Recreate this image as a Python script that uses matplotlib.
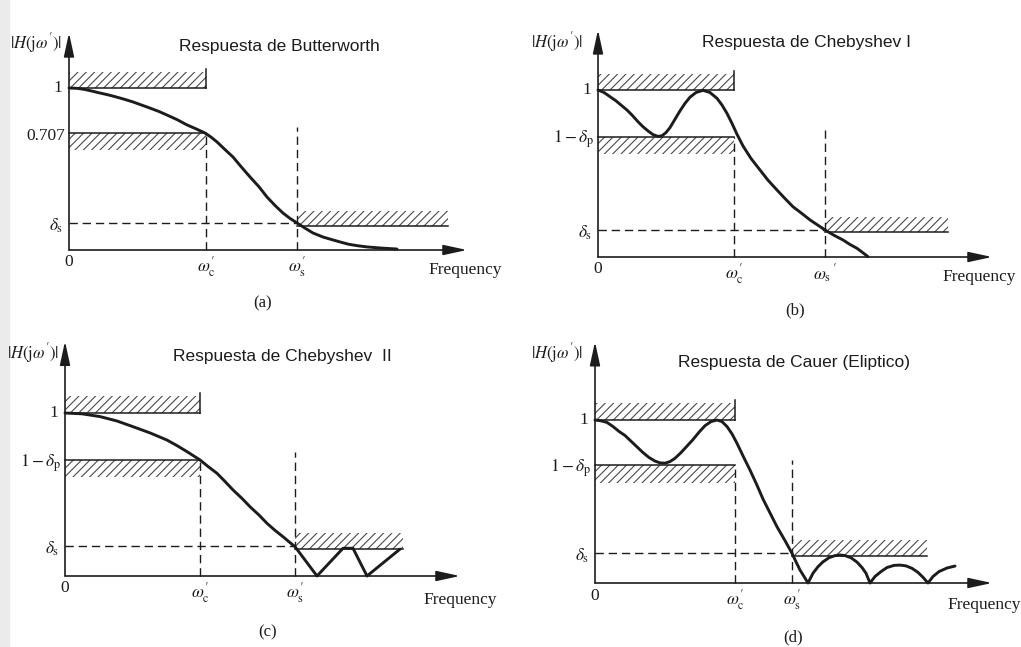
import matplotlib
matplotlib.use("Agg")
import matplotlib.pyplot as plt
from matplotlib.patches import Rectangle

plt.rcParams['font.family'] = ['Liberation Serif', 'DejaVu Serif']
plt.rcParams['mathtext.fontset'] = 'stix'
plt.rcParams['hatch.linewidth'] = 0.8

W, H = 1021, 647

# ---- data (x: frequency units, y: |H|, 1 = passband) ----
# (a) Butterworth
a_freq = [0, .08, .15, .23, .31, .39, .47, .55, .64, .72, .81, .90, .98, 1.08, 1.18, 1.27,
          1.36, 1.42, 1.48, 1.56, 1.64, 1.72, 1.81, 1.90, 1.98, 2.06, 2.14, 2.21, 2.28,
          2.36, 2.44, 2.54, 2.64, 2.72, 2.80, 2.89, 2.98, 3.12, 3.28]
a_mag = [1.0, .998, .992, .981, .969, .958, .945, .931, .914, .896, .876, .855, .833, .805,
         .772, .748, .722, .697, .667, .62, .574, .515, .451, .39, .327, .275, .228, .195,
         .167, .135, .105, .08, .062, .048, .035, .026, .019, .012, .006]
# (b) Chebyshev I
b_freq = [0, .06, .12, .18, .24, .29, .34, .40, .45, .50, .55, .60, .64, .68, .72, .77,
          .82, .87, .92, .98, 1.05, 1.12, 1.19, 1.24, 1.29, 1.34, 1.39, 1.45, 1.53, 1.62,
          1.70, 1.79, 1.87, 1.95, 2.04, 2.12, 2.20, 2.27, 2.36, 2.45, 2.52, 2.59, 2.65, 2.70]
b_mag = [1.0, .985, .96, .935, .905, .88, .85, .81, .78, .755, .733, .722, .726, .745,
         .775, .825, .875, .92, .957, .985, .998, .985, .95, .91, .86, .80, .735, .665,
         .59, .521, .46, .401, .35, .301, .26, .222, .19, .162, .13, .102, .075, .052,
         .025, .002]
# (c) Chebyshev II
c_freq = [0, .17, .35, .52, .68, .85, 1.02, 1.12, 1.22, 1.35, 1.43, 1.52, 1.60, 1.68,
          1.77, 1.85, 1.94, 2.02, 2.10, 2.18, 2.24, 2.30, 2.52, 2.78, 2.88, 3.02, 3.35]
c_mag = [1.0, .995, .978, .951, .916, .878, .834, .800, .763, .712, .672, .630, .580,
         .528, .476, .425, .374, .323, .280, .241, .210, .180, 0, .17, .17, 0, .165]
# (d) Cauer (elliptic)
d_freq = [0, .06, .12, .18, .24, .30, .36, .42, .48, .54, .60, .65, .70, .75, .80, .86,
          .92, .98, 1.04, 1.10, 1.16, 1.22, 1.27, 1.32, 1.37, 1.42, 1.48, 1.55, 1.62,
          1.68, 1.75, 1.82, 1.90, 1.97, 2.01, 2.05, 2.09, 2.13, 2.18, 2.23, 2.28, 2.34,
          2.40, 2.45, 2.50, 2.56, 2.62, 2.67, 2.71, 2.75, 2.80, 2.86, 2.92, 2.99, 3.05,
          3.11, 3.17, 3.23, 3.28, 3.33, 3.38, 3.44, 3.52, 3.60]
d_mag = [1.0, .995, .985, .96, .93, .905, .87, .835, .80, .77, .748, .737, .735, .745,
         .765, .80, .84, .88, .925, .965, .99, 1.0, .99, .96, .915, .857, .78, .693, .60,
         .515, .43, .345, .26, .182, .13, .08, .04, 0, .06, .10, .13, .155, .168, .172,
         .168, .155, .128, .095, .06, 0, .04, .07, .095, .108, .11, .105, .09, .065, .035,
         0, .04, .07, .092, .104]

titles = ["Respuesta de Butterworth", "Respuesta de Chebyshev I",
          "Respuesta de Chebyshev  II", "Respuesta de Cauer (Eliptico)"]
captions = ["(a)", "(b)", "(c)", "(d)"]
pass_lo_labels = ["0.707", r"$1-\delta_{\mathrm{p}}$", r"$1-\delta_{\mathrm{p}}$", r"$1-\delta_{\mathrm{p}}$"]
wc_label = r"$\omega_{\mathrm{c}}^{\prime}$"
ws_labels = [r"$\omega_{\mathrm{s}}^{\prime}$", r"$\omega_{\mathrm{s}}\,^{\prime}$",
             r"$\omega_{\mathrm{s}}^{\prime}$", r"$\omega_{\mathrm{s}}^{\prime}$"]

pass_hi = [1.10, 1.096, 1.104, 1.104]   # top of the upper hatched band
pass_lo = [0.72, 0.72, 0.712, 0.724]    # lower passband level
pass_lo_bot = [0.617, 0.617, 0.607, 0.613]
delta_s = [0.167, 0.162, 0.184, 0.184]
stop_lo = [0.15, 0.15, 0.166, 0.166]
stop_hi = [0.24, 0.24, 0.264, 0.264]
wc = [1.37, 1.36, 1.35, 1.40]
ws = [2.28, 2.27, 2.30, 1.97]
stop_end = [3.79, 3.50, 3.38, 3.32]
ws_dash_top = [0.76, 0.76, 0.76, 0.755]

curves = [(a_freq, a_mag), (b_freq, b_mag), (c_freq, c_mag), (d_freq, d_mag)]

# ---- layout (pixels of the 1021x647 picture) ----
boxes = [(0, 0, 510, 320), (510, 0, 1021, 320), (0, 320, 510, 647), (510, 320, 1021, 647)]
origins = [(69, 250), (598, 257), (65, 576), (595, 583)]
ysc = [162, 167, 163, 163]
x_end = [3.98, 3.94, 3.95, 3.97]
y_top = [1.34, 1.36, 1.44, 1.48]
title_pos = [(279, 47), (806, 42), (282, 357), (794, 362)]
hlabel_pos = [(36, 43), (557, 42), (33, 353), (557, 353)]
freq_pos = [(428, 270), (942, 277), (423, 600), (947, 605)]
cap_pos = [(263, 303), (795, 310), (268, 632), (793, 637)]

fig = plt.figure(figsize=(W / 100, H / 100), dpi=100)
fig.patches.append(Rectangle((0, 0), 9 / W, 1, transform=fig.transFigure,
                             color='#ebebeb', zorder=0))

ink = '#1c1c1c'
hatch_col = '#4a4a4a'
dash = (0, (6, 3.5))

for i in range(4):
    x0, y0, x1, y1 = boxes[i]
    ox, oy = origins[i]
    sy = ysc[i]
    ax = fig.add_axes([x0 / W, 1 - y1 / H, (x1 - x0) / W, (y1 - y0) / H])
    ax.set_xlim((x0 - ox) / 100, (x1 - ox) / 100)
    ax.set_ylim((oy - y1) / sy, (oy - y0) / sy)
    ax.axis('off')

    # axes with arrows
    arr = dict(arrowstyle='-|>,head_length=1.2,head_width=0.26', lw=1.2, color=ink,
               shrinkA=0, shrinkB=0, mutation_scale=12)
    ax.annotate('', xy=(x_end[i], 0), xytext=(0, 0), arrowprops=arr)
    ax.annotate('', xy=(0, y_top[i]), xytext=(0, 0), arrowprops=arr)

    # hatched tolerance bands
    ax.fill_between([0, wc[i]], [1, 1], [pass_hi[i], pass_hi[i]], facecolor='none',
                    edgecolor=hatch_col, hatch='////', linewidth=0)
    ax.plot([0, wc[i]], [1, 1], color=ink, lw=1.1)
    ax.plot([wc[i], wc[i]], [1, pass_hi[i] + 0.02], color=ink, lw=1.1)
    ax.fill_between([0, wc[i]], [pass_lo_bot[i]] * 2, [pass_lo[i]] * 2, facecolor='none',
                    edgecolor=hatch_col, hatch='////', linewidth=0)
    ax.plot([0, wc[i]], [pass_lo[i]] * 2, color=ink, lw=1.1)
    ax.fill_between([ws[i], stop_end[i]], [stop_lo[i]] * 2, [stop_hi[i]] * 2, facecolor='none',
                    edgecolor=hatch_col, hatch='////', linewidth=0)
    ax.plot([ws[i], stop_end[i]], [stop_lo[i]] * 2, color=ink, lw=1.1)

    # dashed guides
    ax.plot([wc[i], wc[i]], [0, pass_lo[i]], color=ink, lw=1.0, ls=dash)
    ax.plot([ws[i], ws[i]], [0, ws_dash_top[i]], color=ink, lw=1.0, ls=dash)
    ax.plot([0, ws[i]], [delta_s[i]] * 2, color=ink, lw=1.0, ls=dash)

    # response curve
    fx, fy = curves[i]
    ax.plot(fx, fy, color=ink, lw=2.1, solid_capstyle='round', solid_joinstyle='round')

    # tick-like labels
    lab = dict(textcoords='offset points', fontsize=12.5, color=ink)
    ax.annotate('1', (0, 1), xytext=(-5, 0), ha='right', va='center', **lab)
    ax.annotate(pass_lo_labels[i], (0, pass_lo[i]), xytext=(-3, -2), ha='right', va='center', **lab)
    ax.annotate(r'$\delta_{\mathrm{s}}$', (0, delta_s[i]), xytext=(-4, -2), ha='right', va='center', **lab)
    ax.annotate('0', (0, 0), xytext=(0, -9), ha='center', va='center', **lab)
    ax.annotate(wc_label, (wc[i], 0), xytext=(0, -12), ha='center', va='center', **lab)
    ax.annotate(ws_labels[i], (ws[i], 0), xytext=(0, -12), ha='center', va='center', **lab)

    fig.text(title_pos[i][0] / W, 1 - title_pos[i][1] / H, titles[i], ha='center', va='center',
             fontsize=12.5, family=['Liberation Sans', 'DejaVu Sans'], color=ink)
    fig.text(hlabel_pos[i][0] / W, 1 - hlabel_pos[i][1] / H, r"$|H(\mathrm{j}\omega^{\prime})|$",
             ha='center', va='center', fontsize=12, color=ink)
    fig.text(freq_pos[i][0] / W, 1 - freq_pos[i][1] / H, "Frequency", ha='left', va='center',
             fontsize=12.5, color=ink)
    fig.text(cap_pos[i][0] / W, 1 - cap_pos[i][1] / H, captions[i], ha='center', va='center',
             fontsize=12, color=ink)

fig.savefig("out.png", dpi=100)
